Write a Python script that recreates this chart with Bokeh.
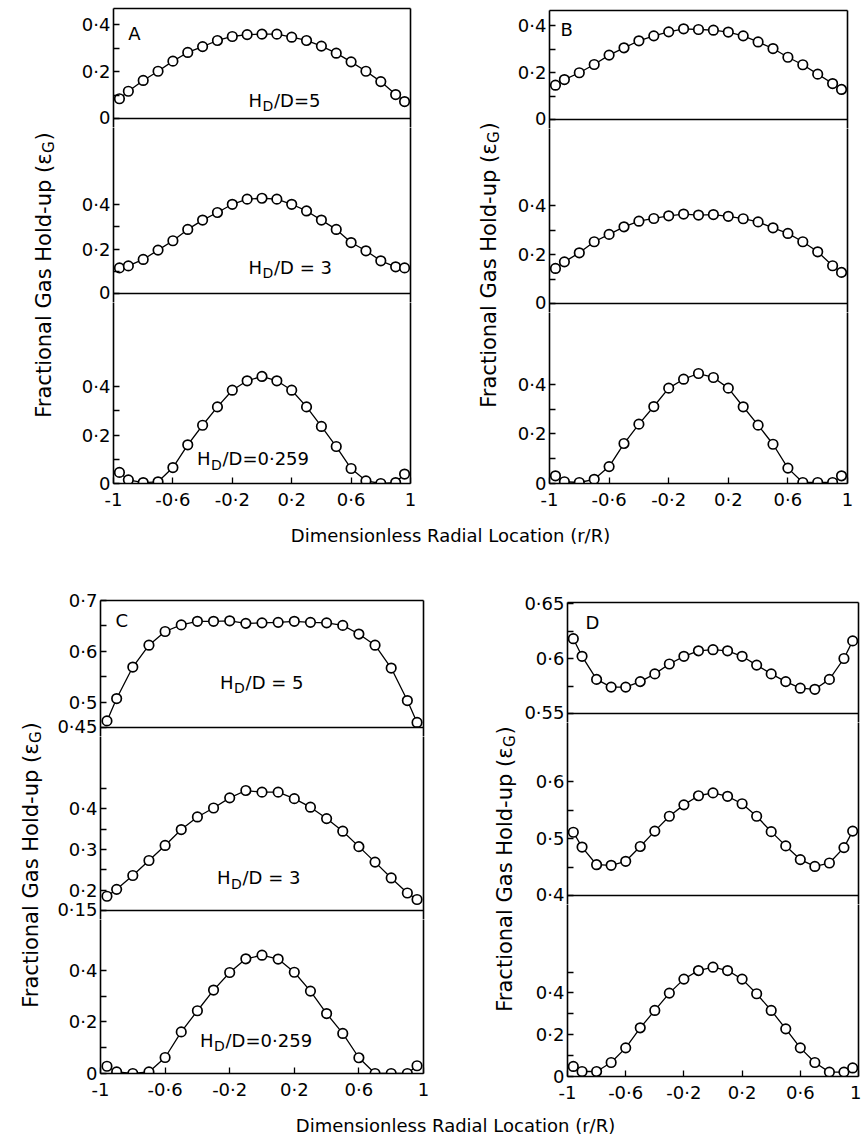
import math
from bokeh.plotting import figure
from bokeh.layouts import row, column
from bokeh.models import Range1d, FixedTicker, CustomJSTickFormatter, LinearAxis, Span
from bokeh.core.properties import value
from bokeh.embed import file_html
from bokeh.resources import INLINE

# ---------------- data ----------------
X = [-0.96, -0.9, -0.8, -0.7, -0.6, -0.5, -0.4, -0.3, -0.2, -0.1, 0.0,
     0.1, 0.2, 0.3, 0.4, 0.5, 0.6, 0.7, 0.8, 0.9, 0.96]

A_HD5 = [0.084, 0.116, 0.162, 0.201, 0.244, 0.281, 0.306, 0.332, 0.349, 0.357, 0.359,
         0.359, 0.346, 0.332, 0.308, 0.278, 0.241, 0.201, 0.157, 0.102, 0.072]
A_HD3 = [0.115, 0.124, 0.153, 0.195, 0.237, 0.288, 0.330, 0.364, 0.401, 0.424, 0.428,
         0.424, 0.401, 0.371, 0.330, 0.288, 0.229, 0.192, 0.147, 0.120, 0.115]
A_HD0259 = [0.046, 0.015, 0.004, 0.007, 0.066, 0.160, 0.241, 0.317, 0.386, 0.425, 0.443,
            0.425, 0.386, 0.317, 0.236, 0.153, 0.062, 0.011, 0.0, 0.004, 0.039]

B_HD5 = [0.146, 0.170, 0.199, 0.234, 0.274, 0.305, 0.335, 0.356, 0.373, 0.386, 0.383,
         0.380, 0.372, 0.356, 0.330, 0.302, 0.265, 0.233, 0.193, 0.153, 0.128]
B_HD3 = [0.143, 0.170, 0.207, 0.252, 0.282, 0.313, 0.336, 0.347, 0.358, 0.365, 0.361,
         0.363, 0.356, 0.346, 0.333, 0.309, 0.286, 0.252, 0.211, 0.154, 0.127]
B_HD0259 = [0.031, 0.007, 0.004, 0.017, 0.068, 0.161, 0.239, 0.310, 0.384, 0.420, 0.443,
            0.427, 0.384, 0.309, 0.235, 0.158, 0.062, 0.004, 0.004, 0.004, 0.031]

C_HD5 = [0.463, 0.507, 0.569, 0.612, 0.639, 0.652, 0.659, 0.659, 0.660, 0.655, 0.656,
         0.657, 0.659, 0.657, 0.656, 0.651, 0.634, 0.612, 0.567, 0.503, 0.460]
C_HD3 = [0.185, 0.202, 0.236, 0.273, 0.310, 0.349, 0.380, 0.402, 0.427, 0.445, 0.441,
         0.441, 0.425, 0.404, 0.376, 0.345, 0.307, 0.269, 0.230, 0.193, 0.177]
C_HD0259 = [0.028, 0.006, 0.0, 0.006, 0.062, 0.161, 0.243, 0.323, 0.391, 0.444, 0.458,
            0.443, 0.392, 0.319, 0.232, 0.155, 0.061, 0.0, 0.0, 0.0, 0.030]

D_HD5 = [0.618, 0.602, 0.581, 0.574, 0.574, 0.579, 0.586, 0.595, 0.602, 0.607, 0.608,
         0.607, 0.602, 0.594, 0.586, 0.579, 0.573, 0.572, 0.581, 0.600, 0.616]
D_HD3 = [0.511, 0.485, 0.454, 0.453, 0.460, 0.486, 0.513, 0.539, 0.559, 0.575, 0.580,
         0.574, 0.561, 0.539, 0.512, 0.487, 0.463, 0.451, 0.457, 0.484, 0.513]
D_HD0259 = [0.048, 0.024, 0.024, 0.067, 0.137, 0.233, 0.316, 0.399, 0.466, 0.507, 0.523,
            0.507, 0.466, 0.396, 0.316, 0.228, 0.137, 0.067, 0.021, 0.021, 0.041]

X_TICKS = [-1, -0.6, -0.2, 0.2, 0.6, 1]
PANEL_LABELS = ["A", "B", "C", "D"]
Y_TITLE = "Fractional Gas Hold-up (\u03b5"
Y_TITLE_SUB = "G"
X_TITLE = "Dimensionless Radial Location (r/R)"

# ---------------- styling helpers ----------------
FONT = "DejaVu Sans"
FMT = CustomJSTickFormatter(code="return String(Math.round(tick*1000)/1000).replace('.', '\u00b7');")
LW = 1.6
TICK_FS = "18px"


def txt(p, x, y, s, size, align="left", baseline="alphabetic", xo=0, yo=0, angle=0.0):
    p.text(x=[x], y=[y], text=[s], text_align=align, text_baseline=baseline,
           x_offset=xo, y_offset=yo, angle=angle, text_color="black",
           text_font=value(FONT), text_font_size=value(f"{size}px"))


def edge_axis():
    return LinearAxis(ticker=FixedTicker(ticks=[]), major_tick_in=0, major_tick_out=0,
                      minor_tick_in=0, minor_tick_out=0, major_label_text_font_size="0px",
                      major_label_standoff=0, axis_line_width=LW, axis_line_color="black")


def subplot(width, bl, br, bt, bb, ftop, fbot, ref_val, ref_px, ppu, majors, minors,
            ys, top_edge=False, xaxis=False, sep=True):
    y0 = ref_val - (fbot - ref_px) / ppu
    y1 = ref_val + (ref_px - ftop) / ppu + 1e-6
    h = bt + (fbot - ftop) + bb
    p = figure(width=width, height=h, x_range=Range1d(-1, 1), y_range=Range1d(y0, y1),
               toolbar_location=None, output_backend="svg",
               x_axis_type="linear" if xaxis else None,
               min_border_left=bl, min_border_right=br, min_border_top=bt, min_border_bottom=bb)
    p.outline_line_color = None
    p.grid.visible = False
    p.background_fill_color = "white"
    p.border_fill_color = "white"
    ya = p.yaxis[0]
    ya.ticker = FixedTicker(ticks=majors, minor_ticks=minors)
    ya.formatter = FMT
    ya.major_tick_in = 6
    ya.major_tick_out = 0
    ya.minor_tick_in = 6
    ya.minor_tick_out = 0
    ya.axis_line_width = LW
    ya.major_tick_line_width = 1.3
    ya.minor_tick_line_width = 1.3
    ya.major_label_standoff = 3
    ya.major_label_text_font = FONT
    ya.major_label_text_font_size = TICK_FS
    ya.major_label_text_color = "black"
    if xaxis:
        xa = p.xaxis[0]
        xa.ticker = FixedTicker(ticks=X_TICKS)
        xa.formatter = FMT
        xa.major_tick_in = 6
        xa.major_tick_out = 0
        xa.minor_tick_in = 0
        xa.minor_tick_out = 0
        xa.axis_line_width = LW
        xa.major_tick_line_width = 1.3
        xa.major_label_standoff = 5
        xa.major_label_text_font = FONT
        xa.major_label_text_font_size = TICK_FS
        xa.major_label_text_color = "black"
    p.add_layout(edge_axis(), "right")
    if top_edge:
        p.add_layout(edge_axis(), "above")
    if sep:
        p.add_layout(Span(location=ref_val, dimension="width", line_color="black", line_width=LW))
    p.line(X, ys, line_color="black", line_width=1.3)
    p.scatter(X, ys, marker="circle", size=9.5, fill_color="white", line_color="black", line_width=1.7)
    return p


def hd(p, x, y, rest):
    txt(p, x, y, "H", 18, align="right")
    txt(p, x, y, "D", 14, align="left", xo=0.5, yo=6)
    txt(p, x, y, rest, 18, align="left", xo=12)


def ytitle(width, height, xb, center_from_top):
    p = figure(width=width, height=height, x_range=Range1d(0, width), y_range=Range1d(0, height),
               x_axis_type=None, y_axis_type=None, toolbar_location=None, output_backend="svg",
               min_border=0)
    p.outline_line_color = None
    p.grid.visible = False
    main_w, sub_w, close_w = 266, 12, 8
    total = main_w + sub_w + close_w
    bottom = center_from_top + total / 2
    py = height - (bottom - main_w)
    txt(p, xb, py, Y_TITLE, 21, align="right", angle=math.pi / 2)
    txt(p, xb + 5, py + 0.5, Y_TITLE_SUB, 15, align="left", angle=math.pi / 2)
    txt(p, xb, py + sub_w + 1, ")", 21, align="left", angle=math.pi / 2)
    return p


def xtitle(width, height, cx, cy_from_top):
    p = figure(width=width, height=height, x_range=Range1d(0, width), y_range=Range1d(0, height),
               x_axis_type=None, y_axis_type=None, toolbar_location=None, output_backend="svg",
               min_border=0)
    p.outline_line_color = None
    p.grid.visible = False
    txt(p, cx, height - cy_from_top, X_TITLE, 18, align="center", baseline="middle")
    return p


T01 = ([0, 0.2, 0.4], [0.1, 0.3])

# ---------------- panel A ----------------
wA, blA = 370, 53
a1 = subplot(wA, blA, 20, 8, 0, 8, 127, 0, 118, 235, *T01, A_HD5, top_edge=True)
a2 = subplot(wA, blA, 20, 0, 0, 127, 302, 0, 293, 222.5, *T01, A_HD3)
a3 = subplot(wA, blA, 20, 0, 32, 302, 483, 0, 483, 241.7, *T01, A_HD0259, xaxis=True, sep=False)
txt(a1, -0.9, 0.362, PANEL_LABELS[0], 18, baseline="middle")
hd(a1, 0.0, 0.077, "/D=5")
hd(a2, 0.0, 0.117, "/D = 3")
hd(a3, -0.347, 0.103, "/D=0\u00b7259")

# ---------------- panel B ----------------
wB, blB = 357, 45
b1 = subplot(wB, blB, 14, 10, 0, 10, 128, 0, 119, 235, *T01, B_HD5, top_edge=True)
b2 = subplot(wB, blB, 14, 0, 0, 128, 312, 0, 303, 245, *T01, B_HD3)
b3 = subplot(wB, blB, 14, 0, 32, 312, 483, 0, 483, 248.3, *T01, B_HD0259, xaxis=True, sep=False)
txt(b1, -0.926, 0.383, PANEL_LABELS[1], 18, baseline="middle")

# ---------------- panel C ----------------
wC, blC = 385, 55
c1 = subplot(wC, blC, 7, 45, 0, 600, 736, 0.45, 727, 508, [0.45, 0.5, 0.6, 0.7], [0.55, 0.65],
             C_HD5, top_edge=True)
c2 = subplot(wC, blC, 7, 0, 0, 736, 919, 0.15, 910, 406.7, [0.15, 0.2, 0.3, 0.4], [0.25, 0.35, 0.45],
             C_HD3)
c3 = subplot(wC, blC, 7, 0, 32, 919, 1073, 0, 1073, 258.3, *T01, C_HD0259, xaxis=True, sep=False)
txt(c1, -0.907, 0.661, PANEL_LABELS[2], 18, baseline="middle")
hd(c1, -0.176, 0.539, "/D = 5")
hd(c2, -0.195, 0.231, "/D = 3")
hd(c3, -0.30, 0.128, "/D=0\u00b7259")

# ---------------- panel D ----------------
wD, blD = 343, 49
d1 = subplot(wD, blD, 3, 47, 0, 602, 722, 0.55, 713, 1100, [0.55, 0.6, 0.65], [0.575, 0.625],
             D_HD5, top_edge=True)
d2 = subplot(wD, blD, 3, 0, 0, 722, 904, 0.4, 895, 570, [0.4, 0.5, 0.6], [0.45, 0.55], D_HD3)
d3 = subplot(wD, blD, 3, 0, 29, 904, 1076, 0, 1076, 209, [0, 0.2, 0.4], [0.1, 0.3, 0.5],
             D_HD0259, xaxis=True, sep=False)
txt(d1, -0.877, 0.633, PANEL_LABELS[3], 18, baseline="middle")

# ---------------- layout ----------------
row1 = row(ytitle(60, 515, 43, 276), column(a1, a2, a3),
           ytitle(74, 515, 58, 266), column(b1, b2, b3))
row2 = row(ytitle(45, 550, 30, 311), column(c1, c2, c3),
           ytitle(88, 550, 74, 315), column(d1, d2, d3))
page = column(row1, xtitle(861, 40, 450, 20), row2, xtitle(861, 34, 455, 20))

open("out.html", "w").write(file_html(page, INLINE))
